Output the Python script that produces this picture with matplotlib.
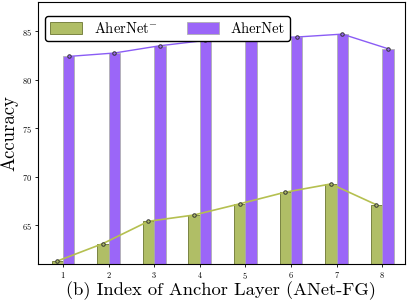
import numpy as np
import matplotlib
matplotlib.use("Agg")
import matplotlib.pyplot as plt

plt.rcParams['font.family'] = 'serif'
plt.rcParams['font.serif'] = ['cmr10', 'DejaVu Serif']
plt.rcParams['mathtext.fontset'] = 'cm'
plt.rcParams['axes.formatter.use_mathtext'] = True

layers = [1, 2, 3, 4, 5, 6, 7, 8]
acc_minus = [61.3, 63.1, 65.4, 66.05, 67.2, 68.4, 69.25, 67.1]
acc_full = [82.4, 82.75, 83.5, 84.05, 84.3, 84.4, 84.7, 83.2]

green = '#b0be66'
purple = '#9b66f8'
x = np.array(layers)
w = 0.25

fig, ax = plt.subplots(figsize=(4.07, 3.01), dpi=100)
fig.subplots_adjust(left=0.093, right=0.995, top=0.993, bottom=0.123)

ax.bar(x - w / 2, acc_minus, width=w, color=green, edgecolor='#6b7530', linewidth=0.6,
       label=r'AherNet$^{-}$')
ax.bar(x + w / 2, acc_full, width=w, color=purple, edgecolor='#b0b0b0', linewidth=0.6,
       label='AherNet')
ax.plot(x - w / 2, acc_minus, '-o', color='#b5c050', lw=1.2, ms=2.5,
        mfc=green, mec='#333333', mew=0.7)
ax.plot(x + w / 2, acc_full, '-o', color='#8a5cf5', lw=1.0, ms=2.5,
        mfc=purple, mec='#333333', mew=0.7)

ax.set_xlim(0.45, 8.5)
ax.set_ylim(61, 88)
ax.set_xticks(layers)
ax.set_yticks([65, 70, 75, 80, 85])
ax.tick_params(labelsize=6, length=2.5, width=0.6, pad=2)
ax.set_ylabel('Accuracy', fontsize=13.5, labelpad=2)
ax.set_xlabel('(b) Index of Anchor Layer (ANet-FG)', fontsize=13.3, labelpad=0)
ax.legend(loc='upper left', ncol=2, fontsize=10.5, frameon=True, edgecolor='black',
          fancybox=True, framealpha=1, handlelength=2.2, handleheight=0.8,
          handletextpad=0.8, columnspacing=2.0, borderpad=0.35,
          bbox_to_anchor=(0.0, 0.975))

fig.savefig('out.png', dpi=100)
